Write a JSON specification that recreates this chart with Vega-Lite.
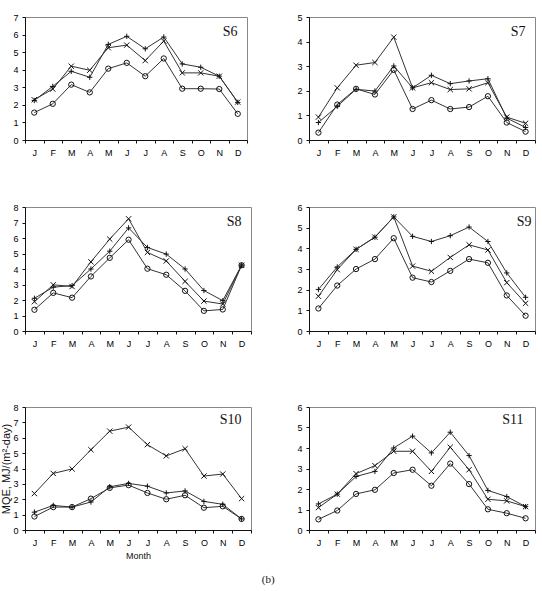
{
  "$schema": "https://vega.github.io/schema/vega-lite/v6.json",
  "padding": {"left": 0, "top": 12, "right": 5, "bottom": 5},
  "background": "white",
  "title": {"text": "(b)", "orient": "bottom", "anchor": "middle", "font": "Liberation Serif", "fontSize": 11, "fontWeight": "normal", "offset": 13, "dx": 0, "color": "#111"},
  "spacing": 44,
  "datasets": {
    "S6": [
      {"m":1,"k":"plus","v":2.25},{"m":2,"k":"plus","v":3.05},{"m":3,"k":"plus","v":3.91},{"m":4,"k":"plus","v":3.57},{"m":5,"k":"plus","v":5.44},{"m":6,"k":"plus","v":5.9},{"m":7,"k":"plus","v":5.19},{"m":8,"k":"plus","v":5.86},{"m":9,"k":"plus","v":4.33},{"m":10,"k":"plus","v":4.14},{"m":11,"k":"plus","v":3.63},{"m":12,"k":"plus","v":2.14},
      {"m":1,"k":"cross","v":2.29},{"m":2,"k":"cross","v":2.9},{"m":3,"k":"cross","v":4.2},{"m":4,"k":"cross","v":3.97},{"m":5,"k":"cross","v":5.25},{"m":6,"k":"cross","v":5.4},{"m":7,"k":"cross","v":4.52},{"m":8,"k":"cross","v":5.63},{"m":9,"k":"cross","v":3.82},{"m":10,"k":"cross","v":3.82},{"m":11,"k":"cross","v":3.63},{"m":12,"k":"cross","v":2.16},
      {"m":1,"k":"circle","v":1.56},{"m":2,"k":"circle","v":2.06},{"m":3,"k":"circle","v":3.15},{"m":4,"k":"circle","v":2.71},{"m":5,"k":"circle","v":4.06},{"m":6,"k":"circle","v":4.39},{"m":7,"k":"circle","v":3.63},{"m":8,"k":"circle","v":4.64},{"m":9,"k":"circle","v":2.92},{"m":10,"k":"circle","v":2.92},{"m":11,"k":"circle","v":2.9},{"m":12,"k":"circle","v":1.49}
    ],
    "S7": [
      {"m":1,"k":"plus","v":0.71},{"m":2,"k":"plus","v":1.37},{"m":3,"k":"plus","v":2.06},{"m":4,"k":"plus","v":1.99},{"m":5,"k":"plus","v":3.01},{"m":6,"k":"plus","v":2.12},{"m":7,"k":"plus","v":2.63},{"m":8,"k":"plus","v":2.29},{"m":9,"k":"plus","v":2.4},{"m":10,"k":"plus","v":2.49},{"m":11,"k":"plus","v":0.89},{"m":12,"k":"plus","v":0.51},
      {"m":1,"k":"cross","v":0.93},{"m":2,"k":"cross","v":2.12},{"m":3,"k":"cross","v":3.04},{"m":4,"k":"cross","v":3.15},{"m":5,"k":"cross","v":4.18},{"m":6,"k":"cross","v":2.12},{"m":7,"k":"cross","v":2.33},{"m":8,"k":"cross","v":2.05},{"m":9,"k":"cross","v":2.08},{"m":10,"k":"cross","v":2.33},{"m":11,"k":"cross","v":0.93},{"m":12,"k":"cross","v":0.68},
      {"m":1,"k":"circle","v":0.3},{"m":2,"k":"circle","v":1.44},{"m":3,"k":"circle","v":2.08},{"m":4,"k":"circle","v":1.85},{"m":5,"k":"circle","v":2.85},{"m":6,"k":"circle","v":1.26},{"m":7,"k":"circle","v":1.62},{"m":8,"k":"circle","v":1.26},{"m":9,"k":"circle","v":1.34},{"m":10,"k":"circle","v":1.78},{"m":11,"k":"circle","v":0.71},{"m":12,"k":"circle","v":0.34}
    ],
    "S8": [
      {"m":1,"k":"plus","v":2.11},{"m":2,"k":"plus","v":2.83},{"m":3,"k":"plus","v":2.93},{"m":4,"k":"plus","v":4.0},{"m":5,"k":"plus","v":5.15},{"m":6,"k":"plus","v":6.65},{"m":7,"k":"plus","v":5.39},{"m":8,"k":"plus","v":4.96},{"m":9,"k":"plus","v":4.0},{"m":10,"k":"plus","v":2.61},{"m":11,"k":"plus","v":1.96},{"m":12,"k":"plus","v":4.24},
      {"m":1,"k":"cross","v":1.89},{"m":2,"k":"cross","v":2.98},{"m":3,"k":"cross","v":2.87},{"m":4,"k":"cross","v":4.46},{"m":5,"k":"cross","v":5.93},{"m":6,"k":"cross","v":7.24},{"m":7,"k":"cross","v":5.07},{"m":8,"k":"cross","v":4.52},{"m":9,"k":"cross","v":3.2},{"m":10,"k":"cross","v":1.93},{"m":11,"k":"cross","v":1.74},{"m":12,"k":"cross","v":4.24},
      {"m":1,"k":"circle","v":1.37},{"m":2,"k":"circle","v":2.46},{"m":3,"k":"circle","v":2.15},{"m":4,"k":"circle","v":3.52},{"m":5,"k":"circle","v":4.72},{"m":6,"k":"circle","v":5.89},{"m":7,"k":"circle","v":4.02},{"m":8,"k":"circle","v":3.63},{"m":9,"k":"circle","v":2.59},{"m":10,"k":"circle","v":1.3},{"m":11,"k":"circle","v":1.39},{"m":12,"k":"circle","v":4.24}
    ],
    "S9": [
      {"m":1,"k":"plus","v":2.01},{"m":2,"k":"plus","v":3.1},{"m":3,"k":"plus","v":3.95},{"m":4,"k":"plus","v":4.54},{"m":5,"k":"plus","v":5.52},{"m":6,"k":"plus","v":4.58},{"m":7,"k":"plus","v":4.33},{"m":8,"k":"plus","v":4.61},{"m":9,"k":"plus","v":5.03},{"m":10,"k":"plus","v":4.33},{"m":11,"k":"plus","v":2.81},{"m":12,"k":"plus","v":1.63},
      {"m":1,"k":"cross","v":1.68},{"m":2,"k":"cross","v":2.97},{"m":3,"k":"cross","v":3.95},{"m":4,"k":"cross","v":4.54},{"m":5,"k":"cross","v":5.52},{"m":6,"k":"cross","v":3.14},{"m":7,"k":"cross","v":2.89},{"m":8,"k":"cross","v":3.56},{"m":9,"k":"cross","v":4.17},{"m":10,"k":"cross","v":3.92},{"m":11,"k":"cross","v":2.34},{"m":12,"k":"cross","v":1.34},
      {"m":1,"k":"circle","v":1.09},{"m":2,"k":"circle","v":2.2},{"m":3,"k":"circle","v":3.0},{"m":4,"k":"circle","v":3.48},{"m":5,"k":"circle","v":4.49},{"m":6,"k":"circle","v":2.58},{"m":7,"k":"circle","v":2.37},{"m":8,"k":"circle","v":2.91},{"m":9,"k":"circle","v":3.48},{"m":10,"k":"circle","v":3.3},{"m":11,"k":"circle","v":1.72},{"m":12,"k":"circle","v":0.74}
    ],
    "S10": [
      {"m":1,"k":"plus","v":1.16},{"m":2,"k":"plus","v":1.6},{"m":3,"k":"plus","v":1.49},{"m":4,"k":"plus","v":1.82},{"m":5,"k":"plus","v":2.81},{"m":6,"k":"plus","v":3.03},{"m":7,"k":"plus","v":2.85},{"m":8,"k":"plus","v":2.41},{"m":9,"k":"plus","v":2.54},{"m":10,"k":"plus","v":1.86},{"m":11,"k":"plus","v":1.67},{"m":12,"k":"plus","v":0.72},
      {"m":1,"k":"cross","v":2.37},{"m":2,"k":"cross","v":3.68},{"m":3,"k":"cross","v":3.97},{"m":4,"k":"cross","v":5.22},{"m":5,"k":"cross","v":6.43},{"m":6,"k":"cross","v":6.69},{"m":7,"k":"cross","v":5.55},{"m":8,"k":"cross","v":4.82},{"m":9,"k":"cross","v":5.29},{"m":10,"k":"cross","v":3.51},{"m":11,"k":"cross","v":3.64},{"m":12,"k":"cross","v":2.04},
      {"m":1,"k":"circle","v":0.88},{"m":2,"k":"circle","v":1.49},{"m":3,"k":"circle","v":1.49},{"m":4,"k":"circle","v":2.04},{"m":5,"k":"circle","v":2.74},{"m":6,"k":"circle","v":2.92},{"m":7,"k":"circle","v":2.41},{"m":8,"k":"circle","v":2.0},{"m":9,"k":"circle","v":2.26},{"m":10,"k":"circle","v":1.45},{"m":11,"k":"circle","v":1.54},{"m":12,"k":"circle","v":0.72}
    ],
    "S11": [
      {"m":1,"k":"plus","v":1.27},{"m":2,"k":"plus","v":1.75},{"m":3,"k":"plus","v":2.61},{"m":4,"k":"plus","v":2.86},{"m":5,"k":"plus","v":4.0},{"m":6,"k":"plus","v":4.58},{"m":7,"k":"plus","v":3.76},{"m":8,"k":"plus","v":4.77},{"m":9,"k":"plus","v":3.63},{"m":10,"k":"plus","v":1.93},{"m":11,"k":"plus","v":1.63},{"m":12,"k":"plus","v":1.14},
      {"m":1,"k":"cross","v":1.09},{"m":2,"k":"cross","v":1.75},{"m":3,"k":"cross","v":2.75},{"m":4,"k":"cross","v":3.14},{"m":5,"k":"cross","v":3.84},{"m":6,"k":"cross","v":3.84},{"m":7,"k":"cross","v":2.86},{"m":8,"k":"cross","v":4.04},{"m":9,"k":"cross","v":2.94},{"m":10,"k":"cross","v":1.5},{"m":11,"k":"cross","v":1.42},{"m":12,"k":"cross","v":1.14},
      {"m":1,"k":"circle","v":0.52},{"m":2,"k":"circle","v":0.95},{"m":3,"k":"circle","v":1.76},{"m":4,"k":"circle","v":1.96},{"m":5,"k":"circle","v":2.78},{"m":6,"k":"circle","v":2.94},{"m":7,"k":"circle","v":2.16},{"m":8,"k":"circle","v":3.24},{"m":9,"k":"circle","v":2.24},{"m":10,"k":"circle","v":1.01},{"m":11,"k":"circle","v":0.82},{"m":12,"k":"circle","v":0.57}
    ]
  },
  "vconcat": [
    {
      "bounds": "flush",
      "spacing": 62,
      "hconcat": [
        {
          "data": {"name": "S6"},
          "width": 222, "height": 123,
          "title": {"text": "S6", "offset": -26, "dx": -10},
          "encoding": {
            "x": {"field": "m", "type": "ordinal", "scale": {"type": "band", "domain": [1,2,3,4,5,6,7,8,9,10,11,12], "paddingInner": 0, "paddingOuter": 0}, "axis": {"title": null, "labelExpr": "['J','F','M','A','M','J','J','A','S','O','N','D'][datum.value-1]"}},
            "y": {"field": "v", "type": "quantitative", "scale": {"domain": [0, 7], "nice": false}, "axis": {"title": null, "values": [0,1,2,3,4,5,6,7]}}
          },
          "layer": [
            {"mark": {"type": "line", "color": "#333", "strokeWidth": 1}, "encoding": {"detail": {"field": "k"}, "order": {"field": "m"}}},
            {"mark": {"type": "point", "filled": false, "color": "#111", "strokeWidth": 1, "size": 28, "opacity": 1}, "encoding": {"shape": {"field": "k", "type": "nominal", "scale": {"domain": ["plus","cross","circle"], "range": ["M-1,0L1,0M0,-1L0,1", "M-1,-1L1,1M-1,1L1,-1", "circle"]}, "legend": null}}}
          ]
        },
        {
          "data": {"name": "S7"},
          "width": 226, "height": 123,
          "title": {"text": "S7", "offset": -26, "dx": -10},
          "encoding": {
            "x": {"field": "m", "type": "ordinal", "scale": {"type": "band", "domain": [1,2,3,4,5,6,7,8,9,10,11,12], "paddingInner": 0, "paddingOuter": 0}, "axis": {"title": null, "labelExpr": "['J','F','M','A','M','J','J','A','S','O','N','D'][datum.value-1]"}},
            "y": {"field": "v", "type": "quantitative", "scale": {"domain": [0, 5], "nice": false}, "axis": {"title": null, "values": [0,1,2,3,4,5]}}
          },
          "layer": [
            {"mark": {"type": "line", "color": "#333", "strokeWidth": 1}, "encoding": {"detail": {"field": "k"}, "order": {"field": "m"}}},
            {"mark": {"type": "point", "filled": false, "color": "#111", "strokeWidth": 1, "size": 28, "opacity": 1}, "encoding": {"shape": {"field": "k", "type": "nominal", "scale": {"domain": ["plus","cross","circle"], "range": ["M-1,0L1,0M0,-1L0,1", "M-1,-1L1,1M-1,1L1,-1", "circle"]}, "legend": null}}}
          ]
        }
      ]
    },
    {
      "spacing": 53,
      "vconcat": [
        {
          "bounds": "flush",
          "spacing": 58,
          "hconcat": [
            {
              "data": {"name": "S8"},
              "width": 226, "height": 124,
              "title": {"text": "S8", "offset": -26, "dx": -10},
              "encoding": {
                "x": {"field": "m", "type": "ordinal", "scale": {"type": "band", "domain": [1,2,3,4,5,6,7,8,9,10,11,12], "paddingInner": 0, "paddingOuter": 0}, "axis": {"title": null, "labelExpr": "['J','F','M','A','M','J','J','A','S','O','N','D'][datum.value-1]"}},
                "y": {"field": "v", "type": "quantitative", "scale": {"domain": [0, 8], "nice": false}, "axis": {"title": null, "values": [0,1,2,3,4,5,6,7,8]}}
              },
              "layer": [
                {"mark": {"type": "line", "color": "#333", "strokeWidth": 1}, "encoding": {"detail": {"field": "k"}, "order": {"field": "m"}}},
                {"mark": {"type": "point", "filled": false, "color": "#111", "strokeWidth": 1, "size": 28, "opacity": 1}, "encoding": {"shape": {"field": "k", "type": "nominal", "scale": {"domain": ["plus","cross","circle"], "range": ["M-1,0L1,0M0,-1L0,1", "M-1,-1L1,1M-1,1L1,-1", "circle"]}, "legend": null}}}
              ]
            },
            {
              "data": {"name": "S9"},
              "width": 226, "height": 124,
              "title": {"text": "S9", "offset": -26, "dx": -4},
              "encoding": {
                "x": {"field": "m", "type": "ordinal", "scale": {"type": "band", "domain": [1,2,3,4,5,6,7,8,9,10,11,12], "paddingInner": 0, "paddingOuter": 0}, "axis": {"title": null, "labelExpr": "['J','F','M','A','M','J','J','A','S','O','N','D'][datum.value-1]"}},
                "y": {"field": "v", "type": "quantitative", "scale": {"domain": [0, 6], "nice": false}, "axis": {"title": null, "values": [0,1,2,3,4,5,6]}}
              },
              "layer": [
                {"mark": {"type": "line", "color": "#333", "strokeWidth": 1}, "encoding": {"detail": {"field": "k"}, "order": {"field": "m"}}},
                {"mark": {"type": "point", "filled": false, "color": "#111", "strokeWidth": 1, "size": 28, "opacity": 1}, "encoding": {"shape": {"field": "k", "type": "nominal", "scale": {"domain": ["plus","cross","circle"], "range": ["M-1,0L1,0M0,-1L0,1", "M-1,-1L1,1M-1,1L1,-1", "circle"]}, "legend": null}}}
              ]
            }
          ]
        },
        {
          "bounds": "flush",
          "spacing": 58,
          "hconcat": [
            {
              "data": {"name": "S10"},
              "width": 226, "height": 123,
              "title": {"text": "S10", "offset": -24, "dx": -10},
              "encoding": {
                "x": {"field": "m", "type": "ordinal", "scale": {"type": "band", "domain": [1,2,3,4,5,6,7,8,9,10,11,12], "paddingInner": 0, "paddingOuter": 0}, "axis": {"title": "Month", "titlePadding": 4, "labelExpr": "['J','F','M','A','M','J','J','A','S','O','N','D'][datum.value-1]"}},
                "y": {"field": "v", "type": "quantitative", "scale": {"domain": [0, 8], "nice": false}, "axis": {"title": "MQE, MJ/(m²-day)", "titleFontSize": 11, "titlePadding": 1, "values": [0,1,2,3,4,5,6,7,8]}}
              },
              "layer": [
                {"mark": {"type": "line", "color": "#333", "strokeWidth": 1}, "encoding": {"detail": {"field": "k"}, "order": {"field": "m"}}},
                {"mark": {"type": "point", "filled": false, "color": "#111", "strokeWidth": 1, "size": 28, "opacity": 1}, "encoding": {"shape": {"field": "k", "type": "nominal", "scale": {"domain": ["plus","cross","circle"], "range": ["M-1,0L1,0M0,-1L0,1", "M-1,-1L1,1M-1,1L1,-1", "circle"]}, "legend": null}}}
              ]
            },
            {
              "data": {"name": "S11"},
              "width": 226, "height": 123,
              "title": {"text": "S11", "offset": -24, "dx": -12},
              "encoding": {
                "x": {"field": "m", "type": "ordinal", "scale": {"type": "band", "domain": [1,2,3,4,5,6,7,8,9,10,11,12], "paddingInner": 0, "paddingOuter": 0}, "axis": {"title": null, "labelExpr": "['J','F','M','A','M','J','J','A','S','O','N','D'][datum.value-1]"}},
                "y": {"field": "v", "type": "quantitative", "scale": {"domain": [0, 6], "nice": false}, "axis": {"title": null, "values": [0,1,2,3,4,5,6]}}
              },
              "layer": [
                {"mark": {"type": "line", "color": "#333", "strokeWidth": 1}, "encoding": {"detail": {"field": "k"}, "order": {"field": "m"}}},
                {"mark": {"type": "point", "filled": false, "color": "#111", "strokeWidth": 1, "size": 28, "opacity": 1}, "encoding": {"shape": {"field": "k", "type": "nominal", "scale": {"domain": ["plus","cross","circle"], "range": ["M-1,0L1,0M0,-1L0,1", "M-1,-1L1,1M-1,1L1,-1", "circle"]}, "legend": null}}}
              ]
            }
          ]
        }
      ]
    }
  ],
  "config": {
    "view": {"stroke": "#888", "strokeWidth": 1},
    "axis": {"labelFont": "Liberation Sans", "labelFontSize": 9, "labelColor": "#000", "tickColor": "#111", "domainColor": "#111", "grid": false, "tickSize": 3, "labelPadding": 4, "titleFont": "Liberation Sans", "titleFontSize": 9, "titleFontWeight": "normal", "titleColor": "#111"},
    "axisX": {"labelAngle": 0, "tickBand": "extent", "labelPadding": 5},
    "title": {"font": "Liberation Serif", "fontSize": 14, "fontWeight": "normal", "anchor": "end", "color": "#111"}
  }
}
